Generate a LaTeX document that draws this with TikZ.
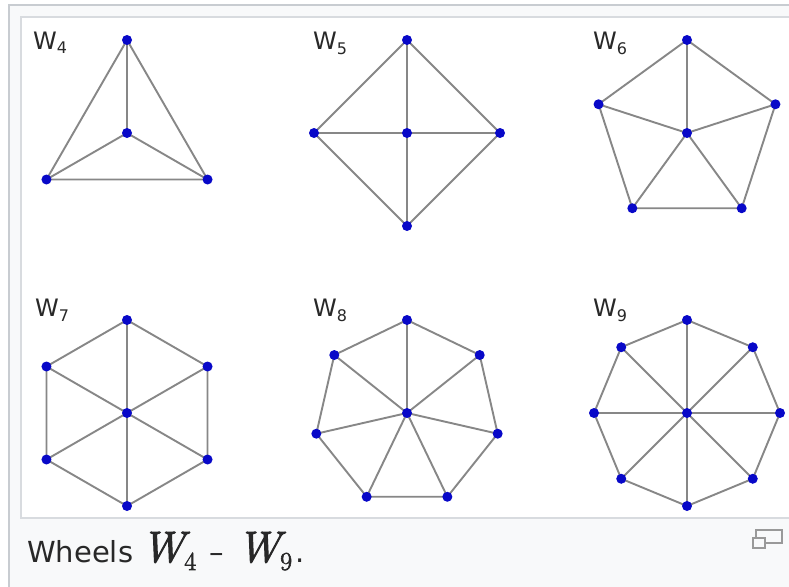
\documentclass[tikz,border=0pt]{standalone}
\usepackage{fontspec}
\setmainfont{DejaVu Sans}
\newfontfamily\capserif[FakeBold=2.2]{Latin Modern Roman}
\definecolor{vblue}{RGB}{8,8,200}
\definecolor{egray}{RGB}{135,135,135}
\definecolor{framegray}{RGB}{200,204,209}
\definecolor{boxbg}{RGB}{248,249,250}
\definecolor{txtgray}{RGB}{40,40,40}
\newcommand{\capW}[1]{{\capserif\fontsize{44}{44}\selectfont\itshape W\raisebox{-8pt}{\upshape\fontsize{26}{26}\selectfont #1}}}

\begin{document}
\begin{tikzpicture}[x=1pt,y=-1pt]
  \tikzset{
    vtx/.style={circle,fill=vblue,inner sep=0pt,minimum size=10pt},
    wline/.style={egray,line width=1.9pt,line join=round},
    wlabel/.style={anchor=base west,inner sep=0pt,text=txtgray,font=\fontsize{24}{24}\selectfont},
  }
  \useasboundingbox (0,0) rectangle (789,586);
  \clip (0,0) rectangle (789,586);
  % frame and image box
  \draw[framegray,fill=boxbg,line width=2pt] (9,5) rectangle (800,600);
  \draw[framegray!70,fill=white,line width=2pt] (21,17) rectangle (800,518);

  % the six wheels
  \foreach \n/\cx/\cy/\lx/\ly in {4/127/133/33/49, 5/407/133/313/50, 6/687/133/593/50, 7/127/413/35/316, 8/407/413/313/316, 9/687/413/593/316}{
    \pgfmathtruncatemacro{\m}{\n-1}
    \coordinate (w\n c) at (\cx,\cy);
    \foreach \k in {1,...,\m}
      \path (w\n c) ++({270+(\k-1)*360/\m}:93) coordinate (w\n-\k);
    \foreach \k in {1,...,\m}{
      \pgfmathtruncatemacro{\j}{mod(\k,\m)+1}
      \draw[wline] (w\n c) -- (w\n-\k) -- (w\n-\j);
    }
    \foreach \k in {1,...,\m}
      \node[vtx] (v\n-\k) at (w\n-\k) {};
    \node[vtx] (v\n c) at (w\n c) {};
    \node[wlabel] (l\n) at (\lx,\ly) {W\raisebox{-5pt}{\fontsize{16}{16}\selectfont\n}};
  }

  % caption
  \node[anchor=base west,inner sep=0pt,text=txtgray,font=\fontsize{29}{29}\selectfont] (cap) at (27,562)
    {Wheels\hspace{-1pt} \capW{4}\hspace{4pt} – \hspace{4pt}\capW{9}\hspace{3pt}.};
  \draw[gray!80,line width=1.5pt] (756,530) rectangle (782,543);
  \draw[gray!80,line width=1.5pt,fill=boxbg] (753,538) rectangle (765,548);
\end{tikzpicture}
\end{document}
